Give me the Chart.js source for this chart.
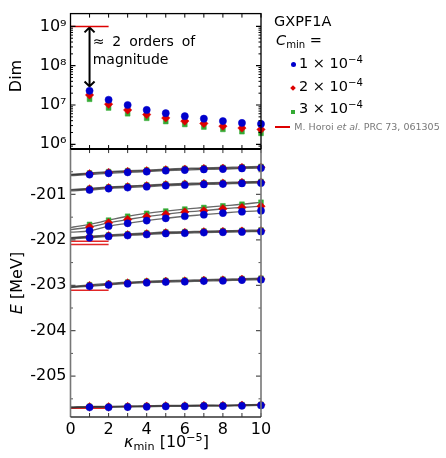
<!DOCTYPE html>
<html>
<head>
<meta charset="utf-8">
<script src="https://cdn.jsdelivr.net/npm/chart.js@4.4.1/dist/chart.umd.min.js"></script>
<style>
  html, body { margin: 0; padding: 0; background: #fff; }
  #wrap { position: relative; width: 446px; height: 458px; font-family: 'DejaVu Sans', sans-serif; color: #000; overflow: hidden; }
  #wrap canvas { position: absolute; left: 0; top: 0; }
  .t { position: absolute; white-space: nowrap; line-height: 1; }
  .rot { transform: translate(-50%, -50%) rotate(-90deg); }
  sub, sup { line-height: 0; font-size: 0.7em; }
  sup { vertical-align: 0.5em; }
  sub { vertical-align: -0.3em; }
  .mk { position: absolute; }
</style>
</head>
<body>
<div id="wrap">
  <canvas id="chart" width="446" height="458"></canvas>

  <div class="t rot" style="left:16px; top:76px; font-size:16px;">Dim</div>
  <div class="t rot" style="left:17px; top:283px; font-size:16px;"><i>E</i> [MeV]</div>
  <div class="t" style="left:124px; top:433.5px; font-size:16px;"><i>κ</i><sub>min</sub> [10<sup>−5</sup>]</div>

  <div class="t" style="left:92.7px; top:33.9px; font-size:14px; word-spacing:3.5px;">≈ 2 orders of</div>
  <div class="t" style="left:92.7px; top:51.5px; font-size:14px;">magnitude</div>

  <div class="t" style="left:274px; top:13.7px; font-size:14.5px;">GXPF1A</div>
  <div class="t" style="left:276px; top:33px; font-size:14.5px;"><i>C</i><sub>min</sub> =</div>
  <div class="mk" style="left:290.5px; top:62.2px; width:5px; height:5px; border-radius:50%; background:#0000cc;"></div>
  <div class="t" style="left:299px; top:56.3px; font-size:14.5px;">1 × 10<sup>−4</sup></div>
  <div class="mk" style="left:291px; top:86.3px; width:4px; height:4px; transform:rotate(45deg); background:#dd0000;"></div>
  <div class="t" style="left:299px; top:79px; font-size:14.5px;">2 × 10<sup>−4</sup></div>
  <div class="mk" style="left:290.8px; top:109.5px; width:4.5px; height:4.5px; background:#33aa33;"></div>
  <div class="t" style="left:299px; top:100.5px; font-size:14.5px;">3 × 10<sup>−4</sup></div>
  <div class="mk" style="left:275px; top:126px; width:15px; height:1.5px; background:#dd0000;"></div>
  <div class="t" style="left:294.3px; top:122.4px; font-size:9.5px; color:#777;">M. Horoi <i>et al.</i> PRC 73, 061305</div>
</div>

<script>
// kappa_min in units of 1e-5
var kappa = [1, 2, 3, 4, 5, 6, 7, 8, 9, 10];

// Dimension for C_min = 1e-4, 2e-4, 3e-4
var dimC1 = [2.3e7, 1.36e7, 1.0e7, 7.5e6, 6.2e6, 5.2e6, 4.5e6, 3.9e6, 3.5e6, 3.3e6];
var dimC2 = [1.8e7, 1.05e7, 7.5e6, 5.7e6, 4.7e6, 3.9e6, 3.4e6, 2.9e6, 2.6e6, 2.4e6];
var dimC3 = [1.4e7, 8.4e6, 6.0e6, 4.6e6, 3.8e6, 3.2e6, 2.75e6, 2.4e6, 2.1e6, 1.9e6];

var xTicks = [0, 2, 4, 6, 8, 10];
var dimTicks = [1e6, 1e7, 1e8, 1e9];
var eTicks = [-205, -204, -203, -202, -201];

// energies (MeV) at kappa = 1..10, one row per level
var eC1 = [
    [-200.563, -200.534, -200.513, -200.498, -200.477, -200.462, -200.448, -200.441, -200.427, -200.419],
    [-200.900, -200.871, -200.849, -200.828, -200.806, -200.792, -200.778, -200.771, -200.756, -200.749],
    [-201.800, -201.700, -201.635, -201.575, -201.525, -201.480, -201.445, -201.410, -201.380, -201.358],
    [-201.953, -201.925, -201.903, -201.882, -201.860, -201.853, -201.839, -201.832, -201.824, -201.817],
    [-203.022, -202.993, -202.964, -202.943, -202.928, -202.921, -202.907, -202.900, -202.885, -202.878],
    [-205.688, -205.688, -205.681, -205.674, -205.667, -205.667, -205.660, -205.660, -205.652, -205.645]
];
var eC2 = [
    [-200.543, -200.514, -200.493, -200.478, -200.457, -200.442, -200.428, -200.421, -200.407, -200.399],
    [-200.880, -200.851, -200.829, -200.808, -200.786, -200.772, -200.758, -200.751, -200.736, -200.729],
    [-201.717, -201.624, -201.552, -201.487, -201.437, -201.387, -201.358, -201.315, -201.287, -201.258],
    [-201.935, -201.907, -201.885, -201.864, -201.842, -201.835, -201.821, -201.814, -201.806, -201.799],
    [-203.005, -202.976, -202.947, -202.926, -202.911, -202.904, -202.890, -202.883, -202.868, -202.861],
    [-205.675, -205.675, -205.668, -205.661, -205.654, -205.654, -205.647, -205.647, -205.639, -205.632]
];
var eC3 = [
    [-200.528, -200.499, -200.478, -200.463, -200.442, -200.427, -200.413, -200.406, -200.392, -200.384],
    [-200.865, -200.836, -200.814, -200.793, -200.771, -200.757, -200.743, -200.736, -200.721, -200.714],
    [-201.659, -201.566, -201.480, -201.416, -201.366, -201.323, -201.287, -201.251, -201.215, -201.172],
    [-201.920, -201.892, -201.870, -201.849, -201.827, -201.820, -201.806, -201.799, -201.791, -201.784],
    [-202.990, -202.960, -202.930, -202.910, -202.895, -202.888, -202.874, -202.867, -202.852, -202.845],
    [-205.665, -205.665, -205.658, -205.651, -205.644, -205.644, -205.637, -205.637, -205.629, -205.622]
];
// fitted curves extrapolated to kappa = 0, per level
var eC1At0 = [-200.584, -200.921, -201.830, -201.975, -203.050, -205.700];
var eC2At0 = [-200.570, -200.905, -201.775, -201.960, -203.040, -205.690];
var eC3At0 = [-200.560, -200.895, -201.730, -201.950, -203.030, -205.680];

// M. Horoi et al. reference values, drawn over kappa 0..2
var horoiKappa = [0, 2];
var horoiDim = [1e9];
var horoiE = [-202.03, -202.10, -203.11, -205.71];

var arrowTipDim = 2.8e7;

Chart.defaults.font.family = 'DejaVu Sans';
Chart.defaults.color = '#000';

function supDigits(n) {
    var map = { '0': '⁰', '1': '¹', '2': '²', '3': '³', '4': '⁴', '5': '⁵', '6': '⁶', '7': '⁷', '8': '⁸', '9': '⁹', '-': '⁻' };
    return String(n).split('').map(function (c) { return map[c] || c; }).join('');
}

function pts(xs, ys) {
    return xs.map(function (x, i) { return { x: x, y: ys[i] }; });
}

// Chart.js paints dataset 0 last (on top), so blue comes first
var series = [
    { dim: dimC1, e: eC1, e0: eC1At0, color: '#0000cc', style: 'circle', r: 3.6 },
    { dim: dimC2, e: eC2, e0: eC2At0, color: '#dd0000', style: 'rectRot', r: 4.2 },
    { dim: dimC3, e: eC3, e0: eC3At0, color: '#33aa33', style: 'rect', r: 3.4 }
];

var datasets = [];

// points, top panel
series.forEach(function (s) {
    datasets.push({ yAxisID: 'yDim', data: pts(kappa, s.dim), showLine: false, clip: false, pointStyle: s.style, pointRadius: s.r, backgroundColor: s.color, borderColor: s.color, borderWidth: 0.5 });
});

// points, bottom panel
series.forEach(function (s) {
    var all = [];
    s.e.forEach(function (row) { all = all.concat(pts(kappa, row)); });
    datasets.push({ yAxisID: 'yE', data: all, showLine: false, clip: false, pointStyle: s.style, pointRadius: s.r, backgroundColor: s.color, borderColor: s.color, borderWidth: 0.5 });
});

// fit curves
series.forEach(function (s) {
    s.e.forEach(function (row, li) {
        datasets.push({
            yAxisID: 'yE',
            data: [{ x: 0, y: s.e0[li] }].concat(pts(kappa, row)),
            showLine: true,
            borderColor: 'rgba(40,40,40,0.7)',
            borderWidth: 1.3,
            tension: 0.4,
            pointRadius: 0
        });
    });
});

// reference lines
horoiDim.forEach(function (v) {
    datasets.push({ yAxisID: 'yDim', data: pts(horoiKappa, [v, v]), showLine: true, borderColor: '#dd0000', borderWidth: 1.5, pointRadius: 0 });
});
horoiE.forEach(function (v) {
    datasets.push({ yAxisID: 'yE', data: pts(horoiKappa, [v, v]), showLine: true, borderColor: 'rgba(221,0,0,0.85)', borderWidth: 1.5, pointRadius: 0 });
});

var framePlugin = {
    id: 'framePlugin',
    beforeDatasetsDraw: function (chart) {
        var ctx = chart.ctx;
        var xs = chart.scales.x, yd = chart.scales.yDim;
        // double arrow
        var ax = xs.getPixelForValue(1);
        var a1 = yd.getPixelForValue(1e9), a2 = yd.getPixelForValue(arrowTipDim);
        ctx.save();
        ctx.strokeStyle = '#000';
        ctx.lineWidth = 2;
        ctx.beginPath();
        ctx.moveTo(ax, a1 + 1); ctx.lineTo(ax, a2 - 1);
        ctx.moveTo(ax - 5, a1 + 6); ctx.lineTo(ax, a1 + 1); ctx.lineTo(ax + 5, a1 + 6);
        ctx.moveTo(ax - 5, a2 - 6); ctx.lineTo(ax, a2 - 1); ctx.lineTo(ax + 5, a2 - 6);
        ctx.stroke();
        ctx.restore();
    },
    afterDraw: function (chart) {
        var ctx = chart.ctx;
        var xs = chart.scales.x, yd = chart.scales.yDim, ye = chart.scales.yE;
        var L = chart.chartArea.left, R = chart.chartArea.right;
        ctx.save();

        function hTicks(y, dir, len, color, lw) {
            ctx.strokeStyle = color; ctx.lineWidth = lw;
            ctx.beginPath();
            for (var k = 0; k <= 10; k++) {
                var px = xs.getPixelForValue(k);
                ctx.moveTo(px, y); ctx.lineTo(px, y + dir * len);
            }
            ctx.stroke();
        }
        function vTicks(scale, values, len, color, lw) {
            ctx.strokeStyle = color; ctx.lineWidth = lw;
            ctx.beginPath();
            values.forEach(function (v) {
                var py = scale.getPixelForValue(v);
                if (py < scale.top + 1 || py > scale.bottom - 1) return;
                ctx.moveTo(L, py); ctx.lineTo(L + len, py);
                ctx.moveTo(R, py); ctx.lineTo(R - len, py);
            });
            ctx.stroke();
        }

        // top panel
        var minors = [];
        for (var d = 5; d <= 9; d++) for (var m = 2; m <= 9; m++) minors.push(m * Math.pow(10, d));
        vTicks(yd, dimTicks, 5, '#000', 1.2);
        vTicks(yd, minors, 2.5, '#000', 1);
        hTicks(yd.top, 1, 4, '#000', 1);
        hTicks(yd.bottom, -1, 4, '#000', 1);
        ctx.strokeStyle = '#000'; ctx.lineWidth = 1.3;
        ctx.strokeRect(L, yd.top, R - L, yd.bottom - yd.top);

        // bottom panel
        var eMajor = [-206, -205, -204, -203, -202, -201, -200];
        var eMinor = [-205.5, -204.5, -203.5, -202.5, -201.5, -200.5];
        vTicks(ye, eMajor, 5, '#555', 1.2);
        vTicks(ye, eMinor, 2.5, '#555', 1);
        hTicks(ye.bottom, -1, 4, '#333', 1);
        hTicks(ye.top, 1, 4, '#333', 1);
        ctx.strokeStyle = '#777'; ctx.lineWidth = 1.6;
        ctx.beginPath();
        ctx.moveTo(L, ye.top); ctx.lineTo(L, ye.bottom);
        ctx.moveTo(R, ye.top); ctx.lineTo(R, ye.bottom);
        ctx.stroke();
        ctx.strokeStyle = '#333'; ctx.lineWidth = 1.6;
        ctx.beginPath();
        ctx.moveTo(L, ye.bottom); ctx.lineTo(R, ye.bottom);
        ctx.stroke();
        ctx.strokeStyle = '#000'; ctx.lineWidth = 2;
        ctx.beginPath();
        ctx.moveTo(L, ye.top); ctx.lineTo(R, ye.top);
        ctx.stroke();

        ctx.restore();
    }
};

function setTicks(values) {
    return function (scale) { scale.ticks = values.map(function (v) { return { value: v }; }); };
}

new Chart(document.getElementById('chart'), {
    type: 'scatter',
    data: { datasets: datasets },
    options: {
        responsive: false,
        animation: false,
        devicePixelRatio: 1,
        layout: { padding: { left: 0, right: 185, top: 6, bottom: 0 } },
        plugins: { legend: { display: false }, tooltip: { enabled: false } },
        scales: {
            x: {
                type: 'linear', min: 0, max: 10,
                afterBuildTicks: setTicks(xTicks),
                ticks: { font: { size: 16 }, padding: 3, maxRotation: 0 },
                grid: { display: false, drawTicks: false },
                border: { display: false },
                afterFit: function (s) { s.height = 41; }
            },
            yDim: {
                type: 'logarithmic', position: 'left', stack: 'panels', stackWeight: 138, weight: 2,
                min: Math.pow(10, 5.88), max: Math.pow(10, 9.325),
                afterBuildTicks: setTicks(dimTicks),
                ticks: { font: { size: 16 }, padding: 4, callback: function (v) { return '10' + supDigits(Math.round(Math.log10(v))); } },
                grid: { display: false, drawTicks: false },
                border: { display: false },
                afterFit: function (s) { s.width = 70.5; }
            },
            yE: {
                type: 'linear', position: 'left', stack: 'panels', stackWeight: 273, weight: 1,
                min: -205.9, max: -200,
                afterBuildTicks: setTicks(eTicks),
                ticks: { font: { size: 16 }, padding: 4, callback: function (v) { return String(v); } },
                grid: { display: false, drawTicks: false },
                border: { display: false },
                afterFit: function (s) { s.width = 70.5; }
            }
        }
    },
    plugins: [framePlugin]
});
</script>
</body>
</html>
